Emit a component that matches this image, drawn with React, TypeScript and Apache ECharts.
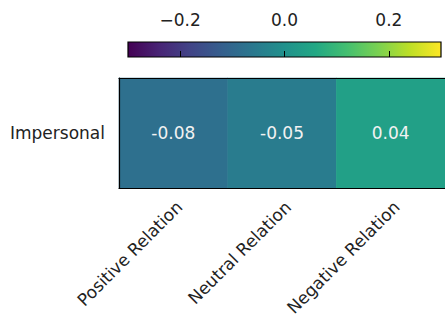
import React, { useEffect, useRef } from "react";
import * as echarts from "echarts";

const xCategories = ["Positive Relation", "Neutral Relation", "Negative Relation"];
const yCategories = ["Impersonal"];
const values = [-0.08, -0.05, 0.04];
const colorMin = -0.3;
const colorMax = 0.3;
const colorbarTicks = [-0.2, 0, 0.2];
const viridis = [
  "#440154", "#482475", "#414487", "#355f8d", "#2a788e", "#21918c",
  "#22a884", "#44bf70", "#7ad151", "#bddf26", "#fde725",
];

const FONT = "DejaVu Sans";
const FS = 17;

export default function App() {
  const ref = useRef<HTMLDivElement>(null);
  useEffect(() => {
    document.body.style.margin = "0";
    const chart = echarts.init(ref.current!, null, { renderer: "svg" });
    const heatData = values.map((v, i) => [i, 0, v]);
    chart.setOption({
      animation: false,
      backgroundColor: "#ffffff",
      textStyle: { fontFamily: FONT },
      grid: [
        { left: 119, top: 78, width: 333, height: 110 },
        { left: 128, top: 42, width: 313, height: 15 },
      ],
      visualMap: {
        show: false,
        min: colorMin,
        max: colorMax,
        seriesIndex: 0,
        dimension: 2,
        inRange: { color: viridis },
      },
      xAxis: [
        {
          type: "category",
          gridIndex: 0,
          data: xCategories,
          z: 10,
          axisLine: { lineStyle: { color: "#000", width: 1.2 } },
          axisTick: { alignWithLabel: true, length: 6, lineStyle: { color: "#000" } },
          axisLabel: {
            rotate: 45,
            margin: 10,
            fontSize: FS,
            verticalAlign: "top",
            color: "#222",
            fontFamily: FONT,
          },
          splitLine: { show: false },
        },
        {
          type: "category",
          gridIndex: 0,
          data: xCategories,
          position: "top",
          z: 10,
          axisLine: { lineStyle: { color: "#000", width: 1.2 } },
          axisTick: { show: false },
          axisLabel: { show: false },
        },
        {
          type: "value",
          gridIndex: 1,
          min: colorMin,
          max: colorMax,
          position: "top",
          z: 10,
          axisLine: { show: false },
          axisTick: {
            show: true,
            length: 6,
            customValues: colorbarTicks,
            lineStyle: { color: "#000" },
          },
          axisLabel: {
            show: true,
            fontSize: FS,
            margin: 14,
            color: "#222",
            fontFamily: FONT,
            customValues: colorbarTicks,
            formatter: (v: number) => (v < 0 ? "\u2212" + Math.abs(v).toFixed(1) : v.toFixed(1)),
          },
          splitLine: { show: false },
        },
      ],
      yAxis: [
        {
          type: "category",
          gridIndex: 0,
          data: yCategories,
          z: 10,
          axisLine: { lineStyle: { color: "#000", width: 1.2 } },
          axisTick: { alignWithLabel: true, length: 6, lineStyle: { color: "#000" } },
          axisLabel: { margin: 14, fontSize: FS, color: "#222", fontFamily: FONT },
          splitLine: { show: false },
        },
        {
          type: "value",
          gridIndex: 1,
          min: 0,
          max: 1,
          show: false,
        },
      ],
      series: [
        {
          type: "heatmap",
          xAxisIndex: 0,
          yAxisIndex: 0,
          data: heatData,
          z: 2,
          label: {
            show: true,
            fontSize: FS,
            color: "#f2f2f2",
            fontFamily: FONT,
            formatter: (p: any) => p.value[2].toFixed(2),
          },
          itemStyle: { borderWidth: 0 },
          emphasis: { disabled: true },
        },
        {
          type: "custom",
          xAxisIndex: 2,
          yAxisIndex: 1,
          data: [[colorMin, colorMax]],
          z: 2,
          renderItem: (params: any, api: any) => {
            const p0 = api.coord([colorMin, 1]);
            const p1 = api.coord([colorMax, 0]);
            return {
              type: "rect",
              shape: { x: p0[0], y: p0[1], width: p1[0] - p0[0], height: p1[1] - p0[1] },
              style: {
                fill: new echarts.graphic.LinearGradient(
                  0, 0, 1, 0,
                  viridis.map((c, i) => ({ offset: i / (viridis.length - 1), color: c }))
                ),
                stroke: "#000",
                lineWidth: 1.2,
              },
            };
          },
        },
      ],
    });
    return () => chart.dispose();
  }, []);
  return <div ref={ref} style={{ width: 445, height: 322 }} />;
}
